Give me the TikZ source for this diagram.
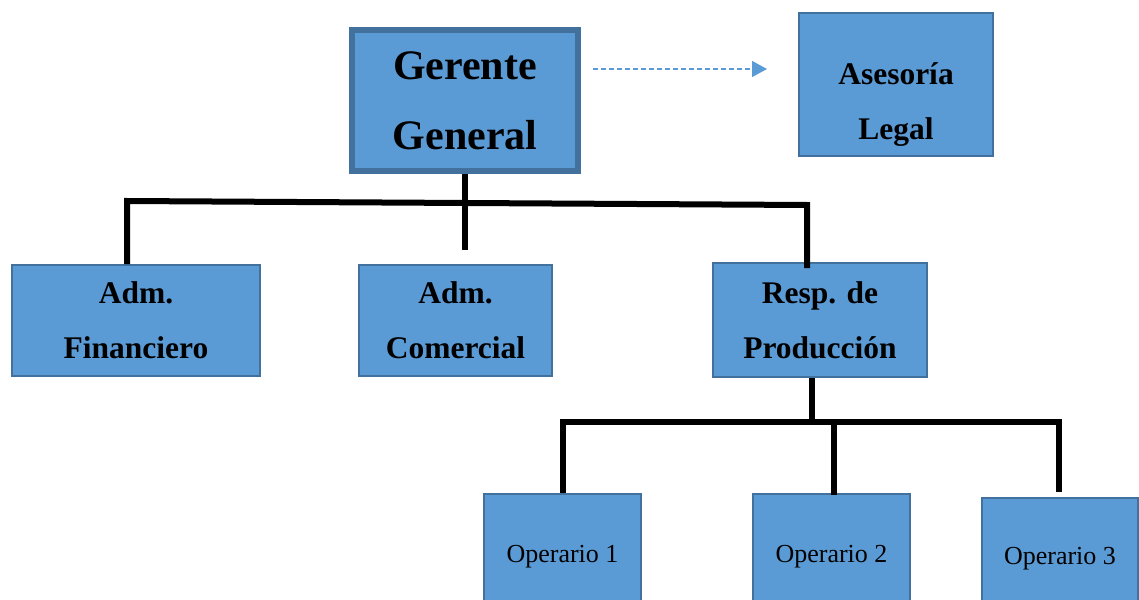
\documentclass[tikz,border=0pt]{standalone}
\usepackage{fontspec}
\setmainfont{Liberation Serif}
\usetikzlibrary{arrows.meta,calc}
\definecolor{boxfill}{RGB}{91,155,213}
\definecolor{boxline}{RGB}{65,113,156}
\tikzset{
  box/.style={draw=boxline, fill=boxfill, line width=2pt, inner sep=0pt, align=center},
  bigbold/.style={font=\fontsize{42}{70}\selectfont\bfseries},
  midbold/.style={font=\fontsize{31.5}{55}\selectfont\bfseries},
  small/.style={font=\fontsize{26}{30}\selectfont},
  conn/.style={draw=black, line width=6pt},
  dasharrow/.style={draw=boxfill, line width=1.3pt, dash pattern=on 5pt off 3pt,
    -{Triangle[length=15pt,width=16pt]}}
}
\begin{document}
\begin{tikzpicture}[x=1pt,y=-1pt]
\path[use as bounding box] (0,0) rectangle (1139,599);
\clip (0,0) rectangle (1139,599);
% boxes
\node[box, bigbold, line width=6pt, minimum width=226pt, minimum height=141pt] (gg) at (465,100.5) {Gerente\\General};
\node[box, minimum width=194pt, minimum height=143pt] (al) at (896,84.5) {};
\node[midbold, align=center, inner sep=0pt] (alt) at (896,104.4) {Asesoría\\Legal};
\node[box, midbold, minimum width=248pt, minimum height=111pt] (fin) at (136,320.5) {Adm.\\Financiero};
\node[box, midbold, minimum width=193pt, minimum height=111pt] (com) at (455.5,320.5) {Adm.\\Comercial};
\node[box, midbold, minimum width=214pt, minimum height=114pt] (rp) at (820,320) {Resp. de\\Producción};
\node[box, small, minimum width=157pt, minimum height=126pt] (op1) at (562.5,557) {Operario 1};
\node[box, small, minimum width=157pt, minimum height=126pt] (op2) at (831.5,557) {Operario 2};
\node[box, small, minimum width=156pt, minimum height=122pt] (op3) at (1060,559) {Operario 3};
% upper connectors
\coordinate (c1) at (465,250);
\coordinate (j1) at (127,201);
\coordinate (j2) at (807,205);
\coordinate (j3) at (807,268);
\draw[conn] (gg.south) -- (c1);
\draw[conn] (j1 |- fin.north) -- (j1) -- (j2) -- (j3);
% lower connectors
\coordinate (rb) at (812,422);
\coordinate (hl) at (560,422);
\coordinate (hr) at (1062,422);
\coordinate (s1) at (563,422);
\coordinate (s2) at (834,422);
\coordinate (s3) at (1059,422);
\coordinate (e2) at (834,495);
\coordinate (e3) at (1059,492);
\draw[conn] (rp.south -| rb) -- (rb);
\draw[conn] (hl) -- (hr);
\draw[conn] (s1) -- (s1 |- op1.north);
\draw[conn] (s2) -- (e2);
\draw[conn] (s3) -- (e3);
% dashed arrow
\coordinate (da) at (593,69);
\coordinate (db) at (767,69);
\draw[dasharrow] (da) -- (db);
\end{tikzpicture}
\end{document}
